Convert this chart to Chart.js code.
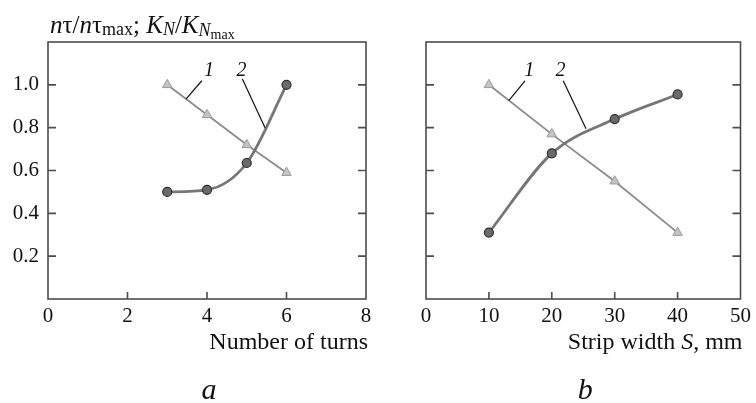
<!DOCTYPE html>
<html>
<head>
<meta charset="utf-8">
<script src="https://cdn.jsdelivr.net/npm/chart.js@4.4.1/dist/chart.umd.min.js"></script>
<style>
  html, body { margin: 0; padding: 0; background: #fff; }
  #wrap { position: relative; width: 756px; height: 403px; }
  .panel { position: absolute; top: 0; width: 378px; height: 403px; }
</style>
</head>
<body>
<div id="wrap">
  <div class="panel" style="left:0"><canvas id="turns_chart" width="378" height="403"></canvas></div>
  <div class="panel" style="left:378px"><canvas id="width_chart" width="378" height="403"></canvas></div>
</div>
<script>
// panel a: vs number of turns
const turns = [3, 4, 5, 6];
const turns_curve1 = [1.0, 0.86, 0.72, 0.59];
const turns_curve2 = [0.50, 0.51, 0.635, 1.0];
const turns_ticks = [0, 2, 4, 6, 8];

// panel b: vs strip width
const widths = [10, 20, 30, 40];
const width_curve1 = [1.0, 0.77, 0.55, 0.31];
const width_curve2 = [0.31, 0.68, 0.84, 0.955];
const width_ticks = [0, 10, 20, 30, 40, 50];

const y_ticks = [0.2, 0.4, 0.6, 0.8, 1.0];

const SERIF = "'Liberation Serif', 'DejaVu Serif', serif";

function pairs(xs, ys)
{
    return xs.map((x, i) => ({ x: x, y: ys[i] }));
}

// draw a run of text pieces with their own fonts and baseline shifts
function drawRich(ctx, pieces, x, y, align)
{
    let total = 0;
    pieces.forEach(p => { ctx.font = p.font; total += ctx.measureText(p.text).width; });
    let cx = align === "right" ? x - total : (align === "center" ? x - total / 2 : x);
    ctx.textAlign = "left";
    ctx.textBaseline = "alphabetic";
    pieces.forEach(p =>
    {
        ctx.font = p.font;
        ctx.fillText(p.text, cx, y + (p.dy || 0));
        cx += ctx.measureText(p.text).width;
    });
}

const frame_plugin =
{
    id: "frame",
    afterDatasetsDraw(chart, args, opts)
    {
        const ctx = chart.ctx;
        const area = chart.chartArea;
        const xs = chart.scales.x;
        const ys = chart.scales.y;
        ctx.save();

        // box
        ctx.strokeStyle = "#4d4d4d";
        ctx.lineWidth = 1.6;
        ctx.strokeRect(area.left, area.top, area.right - area.left, area.bottom - area.top);

        // inward ticks
        ctx.beginPath();
        y_ticks.forEach(v =>
        {
            const py = ys.getPixelForValue(v);
            ctx.moveTo(area.left, py); ctx.lineTo(area.left + 8, py);
            ctx.moveTo(area.right, py); ctx.lineTo(area.right - 8, py);
        });
        opts.xticks.slice(1, -1).forEach(v =>
        {
            const px = xs.getPixelForValue(v);
            ctx.moveTo(px, area.bottom); ctx.lineTo(px, area.bottom - 7);
        });
        ctx.stroke();

        // curve labels with leader lines
        ctx.fillStyle = "#111";
        ctx.strokeStyle = "#111";
        ctx.lineWidth = 1.2;
        opts.notes.forEach(n =>
        {
            ctx.beginPath();
            ctx.moveTo(xs.getPixelForValue(n.from[0]), ys.getPixelForValue(n.from[1]));
            ctx.lineTo(xs.getPixelForValue(n.to[0]), ys.getPixelForValue(n.to[1]));
            ctx.stroke();
            ctx.font = "italic 20px " + SERIF;
            ctx.textAlign = "center";
            ctx.textBaseline = "alphabetic";
            ctx.fillText(n.text, xs.getPixelForValue(n.at[0]), ys.getPixelForValue(n.at[1]));
        });

        // axis title and panel letter
        drawRich(ctx, opts.xtitle, area.right + 2, 349, "right");
        ctx.font = "italic 30px " + SERIF;
        ctx.textAlign = "center";
        ctx.textBaseline = "alphabetic";
        ctx.fillText(opts.letter, (area.left + area.right) / 2 + 2, 399);

        if (opts.ytitle)
        {
            drawRich(ctx, opts.ytitle, area.left + 2, 33, "left");
        }
        ctx.restore();
    }
};

function makeChart(id, xs, c1, c2, xticks, showY, extra)
{
    return new Chart(id,
    {
        type: "line",
        data:
        {
            datasets:
            [
                {
                    label: "2",
                    data: pairs(xs, c2),
                    borderColor: "#767676",
                    borderWidth: 2.8,
                    cubicInterpolationMode: "monotone",
                    pointStyle: "circle",
                    pointRadius: 4.5,
                    pointBackgroundColor: "#6a6a6a",
                    pointBorderColor: "#2e2e2e",
                    pointBorderWidth: 1.2,
                    fill: false
                },
                {
                    label: "1",
                    data: pairs(xs, c1),
                    borderColor: "#8c8c8c",
                    borderWidth: 1.8,
                    tension: 0,
                    pointStyle: "triangle",
                    pointRadius: 5.5,
                    pointBackgroundColor: "#c4c4c4",
                    pointBorderColor: "#9a9a9a",
                    pointBorderWidth: 1,
                    fill: false
                }
            ]
        },
        options:
        {
            responsive: false,
            animation: false,
            devicePixelRatio: 1,
            layout: { padding: { left: 0, right: 12, top: 42, bottom: 0 } },
            plugins:
            {
                legend: { display: false },
                tooltip: { enabled: false },
                title: { display: false },
                frame: extra
            },
            scales:
            {
                x:
                {
                    type: "linear",
                    min: xticks[0],
                    max: xticks[xticks.length - 1],
                    afterBuildTicks: s => { s.ticks = xticks.map(v => ({ value: v })); },
                    afterFit: s => { s.height = 104; },
                    grid: { display: false, drawTicks: false },
                    border: { display: false },
                    ticks:
                    {
                        padding: 5,
                        color: "#111",
                        maxRotation: 0,
                        font: { family: SERIF, size: 21 },
                        callback: v => String(v)
                    }
                },
                y:
                {
                    type: "linear",
                    min: 0,
                    max: 1.2,
                    afterBuildTicks: s => { s.ticks = y_ticks.map(v => ({ value: v })); },
                    afterFit: s => { s.width = 48; },
                    grid: { display: false, drawTicks: false },
                    border: { display: false },
                    ticks:
                    {
                        padding: 9,
                        color: "#111",
                        font: { family: SERIF, size: 21 },
                        callback: v => showY ? v.toFixed(1) : ""
                    }
                }
            }
        },
        plugins: [frame_plugin]
    });
}

const it25 = "italic 25px " + SERIF;
const up25 = "25px " + SERIF;
const up24 = "24px " + SERIF;
const it24 = "italic 24px " + SERIF;
const up18 = "18px " + SERIF;
const it18 = "italic 18px " + SERIF;
const up14 = "14px " + SERIF;

const turns_chart = makeChart("turns_chart", turns, turns_curve1, turns_curve2, turns_ticks, true,
{
    xticks: turns_ticks,
    letter: "a",
    xtitle: [{ text: "Number of turns", font: up24 }],
    ytitle:
    [
        { text: "n", font: it25 }, { text: "τ", font: up25 }, { text: "/", font: up25 },
        { text: "n", font: it25 }, { text: "τ", font: up25 }, { text: "max", font: up18, dy: 2 },
        { text: "; ", font: up25 },
        { text: "K", font: it25 }, { text: "N", font: it18, dy: 2 }, { text: "/", font: up25 },
        { text: "K", font: it25 }, { text: "N", font: it18, dy: 3 }, { text: "max", font: up14, dy: 6 }
    ],
    notes:
    [
        { text: "1", at: [4.05, 1.042], from: [3.87, 1.019], to: [3.47, 0.933] },
        { text: "2", at: [4.87, 1.042], from: [4.89, 1.027], to: [5.46, 0.80] }
    ]
});

const width_chart = makeChart("width_chart", widths, width_curve1, width_curve2, width_ticks, false,
{
    xticks: width_ticks,
    letter: "b",
    xtitle:
    [
        { text: "Strip width ", font: up24 }, { text: "S", font: it24 }, { text: ", mm", font: up24 }
    ],
    ytitle: null,
    notes:
    [
        { text: "1", at: [16.4, 1.042], from: [15.74, 1.019], to: [13.16, 0.926] },
        { text: "2", at: [21.4, 1.042], from: [21.82, 1.019], to: [25.44, 0.795] }
    ]
});
</script>
</body>
</html>
